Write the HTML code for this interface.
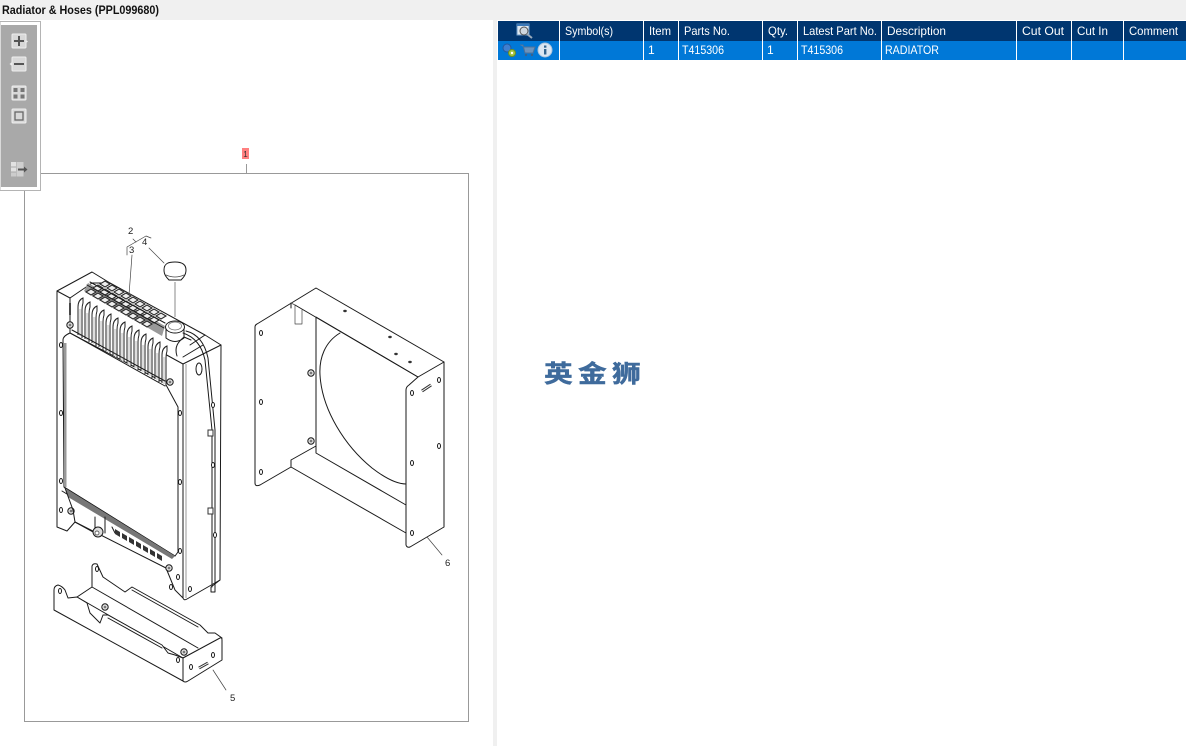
<!DOCTYPE html>
<html><head><meta charset="utf-8"><title>Radiator &amp; Hoses</title>
<style>
html,body{margin:0;padding:0;background:#fff;width:1186px;height:746px;overflow:hidden}
svg{display:block}
text{font-family:"Liberation Sans","Noto Sans CJK SC",sans-serif}
.h{fill:#fff;font-size:12px}
.n{font-size:9.5px;fill:#222}
.k{fill:none;stroke:#1a1a1a;stroke-width:1;stroke-linejoin:round;stroke-linecap:round}
.t{fill:none;stroke:#444;stroke-width:.7;stroke-linejoin:round;stroke-linecap:round}
.w{fill:#fff;stroke:#1a1a1a;stroke-width:1;stroke-linejoin:round}
.b{fill:#d8d8d8;stroke:#eee;stroke-width:1}
</style></head><body>
<svg width="1186" height="746" viewBox="0 0 1186 746" xmlns="http://www.w3.org/2000/svg">
<defs>
<g id="fin"><path d="M-1 37V9Q-1 2 4 0V5Q3 8 3 12V40" fill="#fff" stroke="#222" stroke-width="1"/><path d="M1 11V38" stroke="#aaa" stroke-width=".8"/></g>
<g id="cell"><path d="M0 0l5 -3 5 3 -5 3z" fill="#eee" stroke="#2a2a2a" stroke-width="1.100"/></g>
<g id="hole"><ellipse cx="0" cy="0" rx="1.500" ry="2.500" fill="#fff" stroke="#1a1a1a" stroke-width="1"/></g>
<g id="bolt"><circle cx="0" cy="0" r="3.200" fill="#ddd" stroke="#1a1a1a" stroke-width="1"/><circle cx="0" cy="0" r="1.300" fill="#777"/></g>
</defs>

<rect x="0" y="0" width="1186" height="20" fill="#f0f0f0"/>
<rect x="493" y="20" width="4" height="726" fill="#f0f0f0"/>
<text x="2" y="14" font-size="11.500" font-weight="bold" fill="#111" textLength="157" lengthAdjust="spacingAndGlyphs">Radiator &amp; Hoses (PPL099680)</text>

<rect x="24.500" y="173.500" width="444" height="548" fill="#fff" stroke="#999"/>
<path d="M246.500 164V173" stroke="#999"/>
<rect x="242" y="148" width="7" height="11" fill="#ff8080"/>
<text x="245.500" y="157" font-size="8" text-anchor="middle" fill="#333">1</text>

<!-- toolbar -->
<rect x="0" y="21.500" width="40.500" height="169" fill="#fff" stroke="#b4b4b4"/>
<rect x="1" y="25" width="36" height="162" fill="#a9a9a9"/>
<rect class="b" x="12" y="34" width="14" height="14" rx="1"/>
<path d="M14 41H24M19 36V46" stroke="#555" stroke-width="2"/>
<path d="M26 40l2 1.500-2 1.500z" fill="#eee"/>
<rect class="b" x="12" y="57" width="14" height="14" rx="1"/>
<path d="M14 64H24" stroke="#555" stroke-width="2"/>
<path d="M12 62l-2.500 2 2.500 2z" fill="#eee"/>
<rect class="b" x="12" y="86" width="14" height="14" rx="1"/>
<path d="M13.500 88h4v4h-4zM20.500 88h4v4h-4zM13.500 94.500h4v4h-4zM20.500 94.500h4v4h-4z" fill="#777"/>
<rect class="b" x="12" y="109" width="14" height="14" rx="1"/>
<rect x="15" y="112" width="8" height="8" fill="none" stroke="#666" stroke-width="1.300"/>
<rect x="11" y="162" width="5" height="4.500" fill="#e2e2e2"/><rect x="11" y="167.500" width="5" height="4" fill="#e2e2e2"/><rect x="11" y="172.500" width="5" height="4" fill="#ccc"/>
<rect x="16.500" y="162" width="7" height="14.500" fill="#cfcfcf"/>
<path d="M18 169.500H25" stroke="#555" stroke-width="2"/><path d="M24 166.500l3.500 3-3.500 3z" fill="#555"/>

<!-- table -->
<rect x="498" y="21" width="688" height="20" fill="#003670"/>
<rect x="498" y="41" width="688" height="19" fill="#0078d7"/>
<g fill="#fff">
<rect x="559" y="21" width="1" height="39"/><rect x="643" y="21" width="1" height="39"/><rect x="678" y="21" width="1" height="39"/>
<rect x="762" y="21" width="1" height="39"/><rect x="797" y="21" width="1" height="39"/><rect x="881" y="21" width="1" height="39"/>
<rect x="1016" y="21" width="1" height="39"/><rect x="1071" y="21" width="1" height="39"/><rect x="1123" y="21" width="1" height="39"/>
</g>
<text class="h" x="565" y="35" textLength="48" lengthAdjust="spacingAndGlyphs">Symbol(s)</text>
<text class="h" x="649" y="35" textLength="22" lengthAdjust="spacingAndGlyphs">Item</text>
<text class="h" x="684" y="35" textLength="46" lengthAdjust="spacingAndGlyphs">Parts No.</text>
<text class="h" x="768" y="35" textLength="20" lengthAdjust="spacingAndGlyphs">Qty.</text>
<text class="h" x="803" y="35" textLength="74" lengthAdjust="spacingAndGlyphs">Latest Part No.</text>
<text class="h" x="887" y="35" textLength="59" lengthAdjust="spacingAndGlyphs">Description</text>
<text class="h" x="1022" y="35" textLength="42" lengthAdjust="spacingAndGlyphs">Cut Out</text>
<text class="h" x="1077" y="35" textLength="31" lengthAdjust="spacingAndGlyphs">Cut In</text>
<text class="h" x="1129" y="35" textLength="49" lengthAdjust="spacingAndGlyphs">Comment</text>
<text class="h" x="648" y="54">1</text>
<text class="h" x="682" y="54" textLength="42" lengthAdjust="spacingAndGlyphs">T415306</text>
<text class="h" x="767" y="54">1</text>
<text class="h" x="801" y="54" textLength="42" lengthAdjust="spacingAndGlyphs">T415306</text>
<text class="h" x="885" y="54" textLength="54" lengthAdjust="spacingAndGlyphs">RADIATOR</text>
<rect x="517" y="24" width="12" height="11" fill="#dfe8f0" stroke="#6f9cc8"/><rect x="517" y="24" width="12" height="2" fill="#3a78b8"/>
<circle cx="524" cy="31" r="4" fill="#cfd8e0" stroke="#555"/><path d="M527 34l5 4" stroke="#9ab" stroke-width="2"/>
<circle cx="507" cy="48" r="4" fill="#3f7fd0" stroke="#2358a0"/><circle cx="512" cy="53" r="3.500" fill="#a5c540" stroke="#6f9020"/><circle cx="512" cy="53" r="1.200" fill="#fff"/>
<path d="M520 45h3l2 8h8l2-6h-11" fill="#6c93bc" stroke="#4d7199"/><circle cx="526" cy="55" r="1.200" fill="#38618c"/><circle cx="532" cy="55" r="1.200" fill="#38618c"/>
<circle cx="545" cy="50" r="7" fill="#dbe6f2" stroke="#a9c2dc"/><rect x="544" y="49" width="2.400" height="5.500" fill="#33648f"/><rect x="544" y="45.500" width="2.400" height="2.200" fill="#33648f"/>

<!-- logo -->
<g fill="#3f6b9c" stroke="#3f6b9c" stroke-width=".5" font-weight="bold" font-size="25">
<text transform="translate(544 382) scale(1.150 .95)" style="font-family:'Noto Sans CJK SC',sans-serif">英</text>
<text transform="translate(578 382) scale(1.150 .95)" style="font-family:'Noto Sans CJK SC',sans-serif">金</text>
<text transform="translate(612 382) scale(1.150 .95)" style="font-family:'Noto Sans CJK SC',sans-serif">狮</text>
</g>

<!-- shroud (part 6) -->
<path class="w" d="M255 327Q255 325 257 324L316 288 444 362V527L410 547Q407 548 406 545V390Q406 387 409 385L418 377 316 317V453L406 505V533L291 467 260 485Q255 487 255 483Z"/>
<path class="k" d="M295 305L418 377M291 303V308M291 460V467M291 460L316 446M444 362L418 377"/>
<path class="k" d="M340 333C325 342 319 358 320 375C322 410 345 446 372 468C385 478 396 484 406 484"/>
<path class="t" d="M295 305V324H302V310M291 303L295 305"/>
<use href="#hole" x="261" y="333"/><use href="#hole" x="261" y="402"/><use href="#hole" x="261" y="472"/><use href="#hole" x="412" y="393"/><use href="#hole" x="412" y="463"/><use href="#hole" x="412" y="533"/><use href="#hole" x="439" y="380"/><use href="#hole" x="439" y="446"/><use href="#bolt" x="311" y="373"/><use href="#bolt" x="311" y="441"/>
<ellipse cx="345" cy="311" rx="1.800" ry="1.200" fill="#333"/><ellipse cx="390" cy="337" rx="1.800" ry="1.200" fill="#333"/><ellipse cx="396" cy="354" rx="1.800" ry="1.200" fill="#333"/><ellipse cx="410" cy="362" rx="1.800" ry="1.200" fill="#333"/>
<path d="M422 391L431 385" stroke="#333" stroke-width="3"/><path d="M422 391L431 385" stroke="#fff" stroke-width="1"/>
<path class="t" d="M427 537L442 555"/>
<text class="n" x="445" y="566">6</text>

<!-- radiator -->
<path class="w" d="M57 291L92 272 110 283 205 335 221 345 220 580 187 599Q184 601 183 598L175 590 166 568 75 522 67 531 57 527Z"/>
<path class="k" d="M57 291L70 298 92 283 110 283M70 298V333M183 364V598M221 345L183 364M205 335L190 345M203 345L183 357M163 353L183 364"/>
<path d="M70 303V315" stroke="#333" stroke-width="1.800"/>
<path class="w" d="M63 340Q63 336 70 333L165 383 178 407V552L175 556 64 487Z"/>
<rect x="64" y="343" width="2.500" height="144" fill="#999"/>
<path d="M186 364V598" stroke="#999" stroke-width="1"/>
<path class="k" d="M183 364V598M64 487L175 556M62 491L172 558"/>
<path d="M88 283L165 326 162 336 84 291Z" fill="#999"/>
<use href="#cell" x="86" y="292"/><use href="#cell" x="93" y="296"/><use href="#cell" x="100" y="300"/><use href="#cell" x="107" y="304"/><use href="#cell" x="114" y="308"/><use href="#cell" x="121" y="312"/><use href="#cell" x="128" y="316"/><use href="#cell" x="135" y="320"/><use href="#cell" x="142" y="324"/>
<use href="#cell" x="93" y="288"/><use href="#cell" x="100" y="292"/><use href="#cell" x="107" y="296"/><use href="#cell" x="114" y="300"/><use href="#cell" x="121" y="304"/><use href="#cell" x="128" y="308"/><use href="#cell" x="135" y="312"/><use href="#cell" x="142" y="316"/><use href="#cell" x="149" y="320"/>
<use href="#cell" x="100" y="284"/><use href="#cell" x="107" y="288"/><use href="#cell" x="114" y="292"/><use href="#cell" x="121" y="296"/><use href="#cell" x="128" y="300"/><use href="#cell" x="135" y="304"/><use href="#cell" x="142" y="308"/><use href="#cell" x="149" y="312"/><use href="#cell" x="156" y="316"/>
<path class="k" d="M90 282L165 323M87 285L164 328"/>
<use href="#fin" x="79" y="298"/><use href="#fin" x="86" y="302"/><use href="#fin" x="93" y="306"/><use href="#fin" x="100" y="310"/><use href="#fin" x="107" y="314"/><use href="#fin" x="114" y="318"/><use href="#fin" x="121" y="322"/><use href="#fin" x="128" y="326"/><use href="#fin" x="135" y="330"/><use href="#fin" x="142" y="334"/><use href="#fin" x="149" y="338"/><use href="#fin" x="156" y="342"/><use href="#fin" x="163" y="346"/>
<path class="k" d="M70 333L165 386M72 330L165 381"/>
<path class="w" d="M166 327V338Q175 345 184 338V327Z"/>
<ellipse cx="175" cy="327" rx="9.500" ry="6" fill="#fff" stroke="#1a1a1a"/>
<ellipse cx="175" cy="326" rx="6.500" ry="4" fill="#fff" stroke="#666" stroke-width=".7"/>
<path d="M175 282V317" stroke="#888"/>
<path class="k" d="M177 356C174 347 178 342 184 337L191 340"/>
<path d="M164 270C164 263 169 262 175 262C181 262 186 264 186 270C186 275 183 278 181 280H169C167 278 164 275 164 270Z" fill="#fff" stroke="#1a1a1a"/>
<path class="t" d="M166 275Q175 279 184 275"/>
<path class="t" d="M149 248L164 263"/>
<path class="k" d="M183 333C195 337 202 346 205 360L212 430V587M186 331C198 334 205 344 208 358L215 430V587"/>
<rect x="208" y="430" width="5" height="6" fill="#fff" stroke="#333"/><rect x="208" y="508" width="5" height="6" fill="#fff" stroke="#333"/>
<path class="k" d="M211 587V592H215V587M211 587L220 580"/>
<ellipse cx="199" cy="369" rx="3" ry="6" fill="#fff" stroke="#1a1a1a"/>
<use href="#hole" x="213" y="465"/><use href="#hole" x="215" y="535"/><use href="#hole" x="213" y="405"/>
<use href="#hole" x="61" y="413"/><use href="#hole" x="61" y="481"/><use href="#hole" x="180" y="413"/><use href="#hole" x="180" y="482"/><use href="#hole" x="180" y="551"/><use href="#hole" x="61" y="345"/>
<use href="#bolt" x="70" y="325"/><use href="#bolt" x="170" y="382"/><use href="#bolt" x="71" y="511"/><use href="#bolt" x="169" y="568"/>
<use href="#hole" x="61" y="510"/><use href="#hole" x="178" y="577"/><use href="#hole" x="171" y="587"/><use href="#hole" x="190" y="589"/>
<path d="M65 488L175 556 172 559 68 497Z" fill="#777"/>
<path class="k" d="M65 488L73 510 75 522M75 522L95 533M95 517V531M105 517V533M112 527L115 533"/>
<circle cx="98" cy="532" r="5" fill="#ddd" stroke="#1a1a1a"/><circle cx="97" cy="533" r="2" fill="#fff" stroke="#333" stroke-width=".7"/>
<path fill="#333" d="M115 529l5 3v5l-5-3zM122 533l5 3v5l-5-3zM129 537l5 3v5l-5-3zM136 541l5 3v5l-5-3zM143 545l5 3v5l-5-3zM150 549l5 3v5l-5-3zM157 553l5 3v5l-5-3z"/>

<!-- tray (part 5) -->
<path class="w" d="M92 587V566Q93 563 97 564L103 577 125 592 132 587 200 625 208 633 215 633 222 638 183 658 77 597Z"/>
<path class="k" d="M92 587L198 648M132 590L198 627"/>
<path class="w" d="M54 590Q54 586 58 585Q62 586 65 590L68 598 77 597 87 603 90 613 100 623 103 615 108 615 162 645 168 653 175 655 183 658V681L54 610Z"/>
<path class="k" d="M108 618L162 648"/>
<path class="w" d="M183 658L220 638Q222 637 222 640V660L188 681Q185 683 183 681Z"/>
<use href="#bolt" x="105" y="607"/><use href="#bolt" x="184" y="652"/>
<use href="#hole" x="60" y="591"/><use href="#hole" x="97" y="569"/><use href="#hole" x="191" y="667"/><use href="#hole" x="213" y="655"/><use href="#hole" x="178" y="660"/>
<path d="M199 668L208 663" stroke="#333" stroke-width="3"/><path d="M199 668L208 663" stroke="#fff" stroke-width="1"/>
<path class="t" d="M213 670L226 690"/>
<text class="n" x="230" y="701">5</text>

<!-- callouts -->
<path class="t" d="M127 255V247L146 236 151 238M136 242L133 239M132 255L129 295"/>
<text class="n" x="128" y="234">2</text>
<text class="n" x="129" y="253">3</text>
<text class="n" x="142" y="245">4</text>
</svg>
</body></html>
